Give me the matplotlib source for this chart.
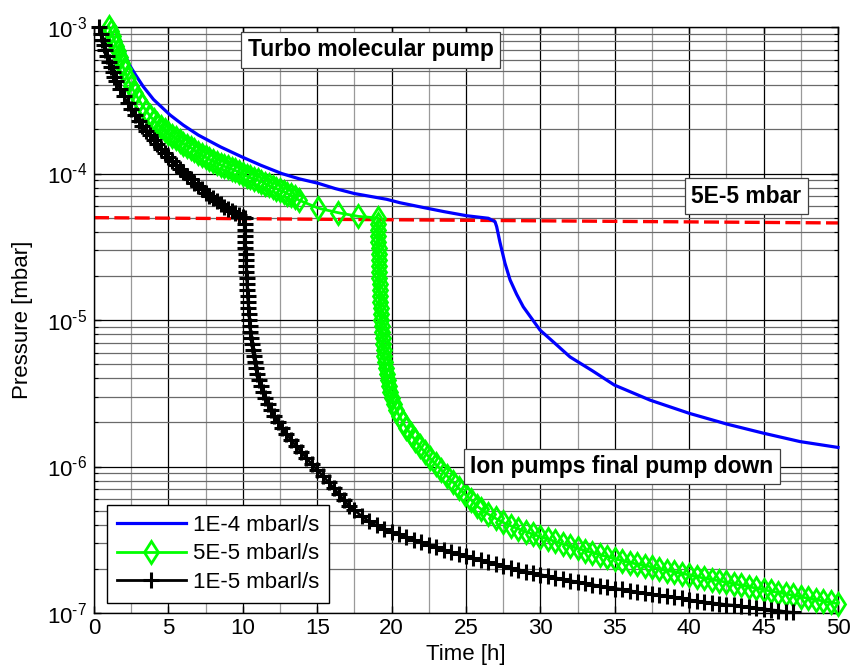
"""
Pump-down curves for three leak rates: turbo pump down to 5E-5 mbar,
then ion pumps take over.
"""

import numpy as np
import matplotlib
matplotlib.use("Agg")
import matplotlib.pyplot as plt
from matplotlib.ticker import MultipleLocator, LogLocator, NullFormatter, FuncFormatter

# ---- data ---------------------------------------------------------------
# 1E-4 mbarl/s (plain line)
blue_t = [1.45, 1.52, 2.0, 2.31, 2.8, 3.31, 4.0, 5.11, 6.0, 7.01, 8.5, 9.93,
          11.2, 12.61, 13.8, 15.08, 16.2, 17.5, 19.67, 20.56, 22.0, 23.5,
          25.05, 26.5, 26.95, 27.06, 27.28, 27.62, 27.96, 28.4, 28.85, 29.97,
          31.0, 31.99, 33.5, 34.97, 37.37, 39.99, 42.52, 44.98, 47.45, 50.0]
blue_p = [1.0e-3, 9.5e-4, 6.9e-4, 5.65e-4, 4.7e-4, 3.92e-4, 3.2e-4, 2.51e-4,
          2.14e-4, 1.83e-4, 1.52e-4, 1.30e-4, 1.14e-4, 1.0e-4, 9.2e-5, 8.57e-5,
          7.9e-5, 7.3e-5, 6.67e-5, 6.32e-5, 5.9e-5, 5.5e-5, 5.15e-5, 4.95e-5,
          4.69e-5, 4.34e-5, 3.4e-5, 2.44e-5, 1.88e-5, 1.5e-5, 1.23e-5, 8.55e-6,
          6.9e-6, 5.6e-6, 4.5e-6, 3.6e-6, 2.84e-6, 2.31e-6, 1.95e-6, 1.69e-6,
          1.48e-6, 1.35e-6]

# pressures along the steep ion-pump drop (shared by both marker curves)
drop_p = [4.97e-5, 4.52e-5, 4.11e-5, 3.74e-5, 3.41e-5, 3.10e-5, 2.82e-5,
          2.57e-5, 2.34e-5, 2.13e-5, 1.94e-5, 1.76e-5, 1.60e-5, 1.46e-5,
          1.33e-5, 1.21e-5, 1.10e-5, 1.00e-5, 9.10e-6, 8.28e-6, 7.53e-6,
          6.86e-6, 6.24e-6, 5.68e-6, 5.17e-6, 4.70e-6, 4.28e-6, 3.89e-6,
          3.54e-6, 3.22e-6, 2.93e-6, 2.67e-6, 2.43e-6, 2.21e-6, 2.01e-6,
          1.83e-6, 1.67e-6, 1.52e-6, 1.38e-6, 1.26e-6, 1.14e-6, 1.04e-6,
          9.46e-7, 8.61e-7, 7.84e-7, 7.13e-7, 6.49e-7, 5.91e-7, 5.37e-7]

# 5E-5 mbarl/s (diamonds)
green_head_t = [1.0, 1.125, 1.25, 1.375, 1.5, 1.625, 1.75, 1.875, 2.0, 2.25,
                2.5, 2.75, 3.0, 3.25, 3.5, 3.75, 4.0, 4.25, 4.5, 4.75, 5.0,
                5.25, 5.5, 5.75, 6.0, 6.25, 6.5, 6.75, 7.0, 7.25, 7.5, 7.75,
                8.0, 8.25, 8.5, 8.75, 9.0, 9.25, 9.5, 9.75, 10.0, 10.25, 10.5,
                10.75, 11.0, 11.25, 11.5, 11.75, 12.0, 12.25, 12.5, 12.75,
                13.0, 13.25, 13.5, 13.75]
green_head_p = [1.00e-3, 9.33e-4, 8.71e-4, 8.04e-4, 7.41e-4, 6.84e-4, 6.2e-4,
                5.7e-4, 5.2e-4, 4.5e-4, 3.95e-4, 3.55e-4, 3.2e-4, 2.92e-4,
                2.69e-4, 2.48e-4, 2.32e-4, 2.19e-4, 2.07e-4, 1.97e-4, 1.88e-4,
                1.81e-4, 1.74e-4, 1.67e-4, 1.60e-4, 1.55e-4, 1.50e-4, 1.44e-4,
                1.38e-4, 1.33e-4, 1.29e-4, 1.25e-4, 1.22e-4, 1.18e-4, 1.15e-4,
                1.12e-4, 1.10e-4, 1.07e-4, 1.05e-4, 1.02e-4, 9.9e-5, 9.6e-5,
                9.4e-5, 9.2e-5, 9.0e-5, 8.8e-5, 8.55e-5, 8.3e-5, 8.1e-5, 7.9e-5,
                7.7e-5, 7.5e-5, 7.3e-5, 7.1e-5, 6.9e-5, 6.6e-5]
green_flat_t = [15.08, 16.42, 17.76]
green_flat_p = [5.8e-5, 5.4e-5, 5.1e-5]
green_drop_t = [19.10, 19.10, 19.10, 19.11, 19.11, 19.12, 19.13, 19.14, 19.15,
                19.16, 19.17, 19.19, 19.20, 19.22, 19.24, 19.26, 19.28, 19.31,
                19.34, 19.37, 19.40, 19.44, 19.48, 19.52, 19.56, 19.62, 19.68,
                19.75, 19.83, 19.92, 20.02, 20.15, 20.32, 20.52, 20.75, 21.0,
                21.28, 21.58, 21.88, 22.22, 22.58, 22.95, 23.35, 23.73, 24.1,
                24.5, 24.92, 25.35, 25.75]
green_tail_t = [26.0, 26.5, 27.0, 27.5, 28.0, 28.5, 29.0, 29.5, 30.0, 30.5,
                31.0, 31.5, 32.0, 32.5, 33.0, 33.5, 34.0, 34.5, 35.0, 35.5,
                36.0, 36.5, 37.0, 37.5, 38.0, 38.5, 39.0, 39.5, 40.0, 40.5,
                41.0, 41.5, 42.0, 42.5, 43.0, 43.5, 44.0, 44.5, 45.0, 45.5,
                46.0, 46.5, 47.0, 47.5, 48.0, 48.5, 49.0, 49.5, 50.0]
green_tail_p = [5.13e-7, 4.73e-7, 4.42e-7, 4.15e-7, 3.94e-7, 3.76e-7, 3.60e-7,
                3.45e-7, 3.32e-7, 3.19e-7, 3.08e-7, 2.96e-7, 2.86e-7, 2.76e-7,
                2.67e-7, 2.58e-7, 2.50e-7, 2.42e-7, 2.35e-7, 2.28e-7, 2.21e-7,
                2.16e-7, 2.11e-7, 2.06e-7, 2.00e-7, 1.95e-7, 1.91e-7, 1.86e-7,
                1.82e-7, 1.77e-7, 1.73e-7, 1.69e-7, 1.66e-7, 1.62e-7, 1.58e-7,
                1.55e-7, 1.51e-7, 1.48e-7, 1.44e-7, 1.41e-7, 1.38e-7, 1.35e-7,
                1.32e-7, 1.29e-7, 1.26e-7, 1.23e-7, 1.21e-7, 1.18e-7, 1.16e-7]

# 1E-5 mbarl/s (plus signs)
black_head_t = [0.35, 0.45, 0.55, 0.65, 0.75, 0.875, 1.0, 1.125, 1.25, 1.375,
                1.5, 1.75, 2.0, 2.25, 2.5, 2.75, 3.0, 3.25, 3.5, 3.75, 4.0,
                4.25, 4.5, 4.75, 5.0, 5.25, 5.5, 5.75, 6.0, 6.25, 6.5, 6.75,
                7.0, 7.25, 7.5, 7.75, 8.0, 8.25, 8.5, 8.75, 9.0, 9.25, 9.5,
                9.75, 10.0]
black_head_p = [1.00e-3, 8.91e-4, 8.13e-4, 7.50e-4, 6.92e-4, 6.31e-4, 5.75e-4,
                5.31e-4, 4.90e-4, 4.57e-4, 4.27e-4, 3.80e-4, 3.39e-4, 3.02e-4,
                2.75e-4, 2.51e-4, 2.29e-4, 2.11e-4, 1.95e-4, 1.82e-4, 1.70e-4,
                1.58e-4, 1.48e-4, 1.38e-4, 1.29e-4, 1.22e-4, 1.15e-4, 1.08e-4,
                1.02e-4, 9.65e-5, 9.12e-5, 8.65e-5, 8.22e-5, 7.8e-5, 7.41e-5,
                7.08e-5, 6.76e-5, 6.45e-5, 6.17e-5, 5.95e-5, 5.75e-5, 5.55e-5,
                5.37e-5, 5.2e-5, 5.07e-5]
black_drop_t = [10.12, 10.13, 10.14, 10.15, 10.16, 10.17, 10.18, 10.20, 10.22,
                10.24, 10.26, 10.28, 10.30, 10.32, 10.35, 10.38, 10.41, 10.44,
                10.47, 10.51, 10.55, 10.60, 10.66, 10.72, 10.80, 10.88, 10.98,
                11.10, 11.22, 11.36, 11.52, 11.70, 11.90, 12.12, 12.36, 12.63,
                12.92, 13.24, 13.58, 13.92, 14.27, 14.63, 15.00, 15.38, 15.76,
                16.10, 16.45, 16.80, 17.15]
black_tail_t = [17.5, 18.0, 18.5, 19.0, 19.5, 20.0, 20.5, 21.0, 21.5, 22.0,
                22.5, 23.0, 23.5, 24.0, 24.5, 25.0, 25.5, 26.0, 26.5, 27.0,
                27.5, 28.0, 28.5, 29.0, 29.5, 30.0, 30.5, 31.0, 31.5, 32.0,
                32.5, 33.0, 33.5, 34.0, 34.5, 35.0, 35.5, 36.0, 36.5, 37.0,
                37.5, 38.0, 38.5, 39.0, 39.5, 40.0, 40.5, 41.0, 41.5, 42.0,
                42.5, 43.0, 43.5, 44.0, 44.5, 45.0, 45.5, 46.0, 46.5, 47.0]
black_tail_p = [5.04e-7, 4.57e-7, 4.22e-7, 3.96e-7, 3.76e-7, 3.59e-7, 3.44e-7,
                3.30e-7, 3.16e-7, 3.04e-7, 2.92e-7, 2.81e-7, 2.71e-7, 2.61e-7,
                2.52e-7, 2.44e-7, 2.36e-7, 2.29e-7, 2.22e-7, 2.15e-7, 2.09e-7,
                2.03e-7, 1.98e-7, 1.92e-7, 1.87e-7, 1.83e-7, 1.78e-7, 1.74e-7,
                1.70e-7, 1.66e-7, 1.63e-7, 1.60e-7, 1.56e-7, 1.53e-7, 1.50e-7,
                1.47e-7, 1.45e-7, 1.42e-7, 1.39e-7, 1.37e-7, 1.34e-7, 1.32e-7,
                1.30e-7, 1.28e-7, 1.26e-7, 1.23e-7, 1.21e-7, 1.19e-7, 1.17e-7,
                1.16e-7, 1.14e-7, 1.13e-7, 1.11e-7, 1.10e-7, 1.08e-7, 1.07e-7,
                1.05e-7, 1.04e-7, 1.02e-7, 1.01e-7]

# 5E-5 mbar switch-over level (dashed red)
limit_t = [0.0, 50.0]
limit_p = [5.0e-5, 4.6e-5]

series_labels = ["1E-4 mbarl/s", "5E-5 mbarl/s", "1E-5 mbarl/s"]

# text boxes: (label, time, pressure)
notes = [("Turbo molecular pump", 18.6, 7.0e-4),
         ("5E-5 mbar", 43.85, 7.0e-5),
         ("Ion pumps final pump down", 35.46, 1.0e-6)]


def decade_label(value, pos):
    """MATLAB style 10^-n label with a short hyphen."""
    exp = int(round(np.log10(value)))
    sign = r"\text{-}" if exp < 0 else ""
    return r"$10^{%s%d}$" % (sign, abs(exp))


def main():
    plt.rcParams["font.family"] = ["Liberation Sans", "DejaVu Sans"]
    plt.rcParams["mathtext.fontset"] = "custom"
    plt.rcParams["mathtext.rm"] = "Liberation Sans"
    plt.rcParams["mathtext.it"] = "Liberation Sans:italic"
    plt.rcParams["mathtext.bf"] = "Liberation Sans:bold"

    green_t = np.concatenate([green_head_t, green_flat_t, green_drop_t, green_tail_t])
    green_p = np.concatenate([green_head_p, green_flat_p, drop_p, green_tail_p])
    black_t = np.concatenate([black_head_t, black_drop_t, black_tail_t])
    black_p = np.concatenate([black_head_p, drop_p, black_tail_p])

    fig = plt.figure(figsize=(8.51, 6.71), dpi=100)
    ax = fig.add_axes([0.1105, 0.0864, 0.8742, 0.8733])

    ax.plot(limit_t, limit_p, color="red", lw=2.4, dashes=(4.5, 1.6), zorder=2)
    ax.plot(blue_t, blue_p, color=(0, 0, 1), lw=2.3, label=series_labels[0],
            zorder=3, clip_on=False)
    ax.plot(green_t, green_p, color=(0, 1, 0), lw=2, marker="d", ms=11.5,
            mfc="none", mew=2, label=series_labels[1], zorder=3, clip_on=False)
    ax.plot(black_t, black_p, color="black", lw=2, marker="+", ms=11, mew=2.2,
            label=series_labels[2], zorder=3, clip_on=False)

    ax.set_yscale("log")
    ax.set_xlim(0, 50)
    ax.set_ylim(1e-7, 1e-3)
    ax.xaxis.set_major_locator(MultipleLocator(5))
    ax.xaxis.set_minor_locator(MultipleLocator(2.5))
    ax.yaxis.set_major_locator(LogLocator(base=10, numticks=10))
    ax.yaxis.set_minor_locator(LogLocator(base=10, subs=np.arange(2, 10), numticks=10))
    ax.yaxis.set_major_formatter(FuncFormatter(decade_label))
    ax.yaxis.set_minor_formatter(NullFormatter())

    ax.grid(which="major", color="black", lw=0.9)
    ax.xaxis.grid(which="minor", color="#9a9a9a", lw=0.9)
    ax.yaxis.grid(which="minor", color="#6a6a6a", lw=0.9)
    ax.set_axisbelow(True)
    ax.tick_params(which="both", direction="in", top=True, right=True,
                   labelsize=16)
    ax.tick_params(which="major", length=5, width=1)
    ax.tick_params(which="minor", length=3, width=0.8)
    ax.tick_params(axis="x", which="minor", length=0)
    ax.tick_params(axis="y", which="major", pad=5)
    for s in ax.spines.values():
        s.set_linewidth(1.0)

    ax.set_xlabel("Time [h]", fontsize=16, labelpad=4)
    ax.set_ylabel("Pressure [mbar]", fontsize=16, labelpad=10)

    for text, t, p in notes:
        ax.text(t, p, text, ha="center", va="center", fontsize=16.5,
                fontweight="bold", zorder=6,
                bbox=dict(boxstyle="square,pad=0.28", fc="white",
                          ec="#404040", lw=0.9))

    leg = ax.legend(loc="lower left", bbox_to_anchor=(0.0175, 0.017),
                    borderaxespad=0, fontsize=16, fancybox=False,
                    edgecolor="black", framealpha=1, handlelength=3.1,
                    handletextpad=0.3, labelspacing=0.35, borderpad=0.45,
                    numpoints=1)
    leg.get_frame().set_linewidth(1.0)
    leg.set_zorder(7)

    fig.savefig("out.png", dpi=100)


if __name__ == "__main__":
    main()
